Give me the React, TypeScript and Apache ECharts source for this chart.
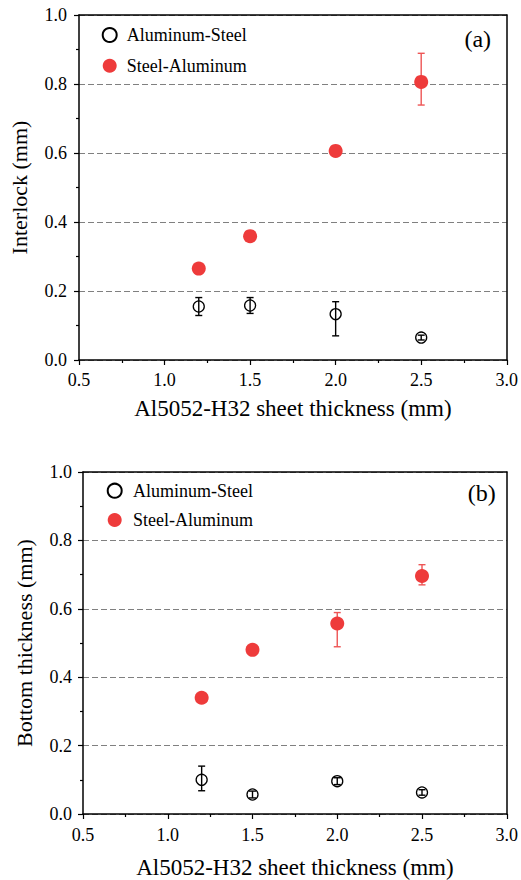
import React, { useEffect, useRef } from "react";
import * as echarts from "echarts";

const thickness = [1.2, 1.5, 2.0, 2.5];
const xTicks = [0.5, 1.0, 1.5, 2.0, 2.5, 3.0];
const yTicks = [0, 0.2, 0.4, 0.6, 0.8, 1.0];
const seriesNames = ["Aluminum-Steel", "Steel-Aluminum"];

// (a) Interlock
const interlockAlSt = [0.155, 0.158, 0.133, 0.065];
const interlockAlStLow = [0.129, 0.135, 0.07, 0.058];
const interlockAlStHigh = [0.181, 0.181, 0.169, 0.072];
const interlockStAl = [0.265, 0.359, 0.606, 0.806];
const interlockStAlLow = [null, null, null, 0.739];
const interlockStAlHigh = [null, null, null, 0.889];

// (b) Bottom thickness
const bottomAlSt = [0.1, 0.057, 0.096, 0.063];
const bottomAlStLow = [0.068, 0.047, 0.086, 0.055];
const bottomAlStHigh = [0.14, 0.067, 0.106, 0.071];
const bottomStAl = [0.34, 0.48, 0.557, 0.696];
const bottomStAlLow = [null, null, 0.489, 0.67];
const bottomStAlHigh = [null, null, 0.589, 0.729];

const FONT = "'Liberation Serif', 'Times New Roman', Times, serif";
const RED = "#EE3B3B";
const RED_ERR = "#EE5555";

function pairs(xs: number[], ys: number[]) {
  return xs.map((x, i) => [x, ys[i]]);
}
function errData(xs: number[], lo: (number | null)[], hi: (number | null)[]) {
  const out: number[][] = [];
  xs.forEach((x, i) => {
    if (lo[i] != null && hi[i] != null) out.push([x, lo[i] as number, hi[i] as number]);
  });
  return out;
}

function errSeries(data: number[][], idx: number, color: string) {
  return {
    type: "custom",
    xAxisIndex: idx,
    yAxisIndex: idx,
    z: 1,
    silent: true,
    data,
    encode: { x: 0, y: [1, 2] },
    renderItem: (params: any, api: any) => {
      const x = api.value(0);
      const lo = api.value(1);
      const hi = api.value(2);
      const p1 = api.coord([x, hi]);
      const p2 = api.coord([x, lo]);
      const w = 3.5;
      const style = { stroke: color, lineWidth: 1.4 };
      return {
        type: "group",
        children: [
          { type: "line", shape: { x1: p1[0], y1: p1[1], x2: p2[0], y2: p2[1] }, style },
          { type: "line", shape: { x1: p1[0] - w, y1: p1[1], x2: p1[0] + w, y2: p1[1] }, style },
          { type: "line", shape: { x1: p2[0] - w, y1: p2[1], x2: p2[0] + w, y2: p2[1] }, style },
        ],
      };
    },
  };
}

function xAxisCfg(gridIndex: number, nameGap: number, labelMargin: number) {
  return {
    type: "value",
    gridIndex,
    min: xTicks[0],
    max: xTicks[xTicks.length - 1],
    interval: 0.5,
    name: "Al5052-H32 sheet thickness (mm)",
    nameLocation: "middle",
    nameGap,
    nameTextStyle: { fontFamily: FONT, fontSize: 23, color: "#000" },
    axisLine: { show: true, onZero: false, lineStyle: { color: "#000", width: 1.5 } },
    axisTick: { show: true, inside: false, length: 5, lineStyle: { color: "#000", width: 1.2 } },
    minorTick: { show: true, splitNumber: 2, length: 3, lineStyle: { color: "#000", width: 1.2 } },
    axisLabel: {
      margin: labelMargin,
      fontFamily: FONT,
      fontSize: 18,
      color: "#000",
      formatter: (v: number) => v.toFixed(1),
    },
    splitLine: { show: false },
  };
}

function yAxisCfg(gridIndex: number, name: string, nameGap: number, labelMargin: number) {
  return {
    type: "value",
    gridIndex,
    min: yTicks[0],
    max: yTicks[yTicks.length - 1],
    interval: 0.2,
    name,
    nameLocation: "middle",
    nameGap,
    nameTextStyle: { fontFamily: FONT, fontSize: 22, color: "#000" },
    axisLine: { show: true, onZero: false, lineStyle: { color: "#000", width: 1.5 } },
    axisTick: { show: true, inside: false, length: 5, lineStyle: { color: "#000", width: 1.2 } },
    minorTick: { show: true, splitNumber: 2, length: 3, lineStyle: { color: "#000", width: 1.2 } },
    axisLabel: {
      margin: labelMargin,
      fontFamily: FONT,
      fontSize: 18,
      color: "#000",
      formatter: (v: number) => v.toFixed(1),
    },
    splitLine: { show: true, lineStyle: { color: "#808080", width: 1, type: [6, 3] } },
  };
}

function frameX(gridIndex: number) {
  return {
    type: "value",
    gridIndex,
    position: "top",
    min: 0,
    max: 1,
    axisLine: { show: true, onZero: false, lineStyle: { color: "#000", width: 1.5 } },
    axisTick: { show: false },
    axisLabel: { show: false },
    splitLine: { show: false },
  };
}
function frameY(gridIndex: number) {
  return {
    type: "value",
    gridIndex,
    position: "right",
    min: 0,
    max: 1,
    axisLine: { show: true, onZero: false, lineStyle: { color: "#000", width: 1.5 } },
    axisTick: { show: false },
    axisLabel: { show: false },
    splitLine: { show: false },
  };
}

function scatterPair(idx: number, alSt: number[], stAl: number[]) {
  return [
    {
      name: seriesNames[0],
      type: "scatter",
      xAxisIndex: idx,
      yAxisIndex: idx,
      z: 3,
      symbol: "circle",
      symbolSize: 11,
      itemStyle: { color: "rgba(255,255,255,0)", borderColor: "#000", borderWidth: 1.3, opacity: 1 },
      data: pairs(thickness, alSt),
    },
    {
      name: seriesNames[1],
      type: "scatter",
      xAxisIndex: idx,
      yAxisIndex: idx,
      z: 3,
      symbol: "circle",
      symbolSize: 14,
      itemStyle: { color: RED, opacity: 1 },
      data: pairs(thickness, stAl),
    },
  ];
}

function legendCfg(left: number, top: number, itemWidth: number, itemGap: number) {
  return {
    orient: "vertical",
    left,
    top,
    padding: 0,
    itemWidth,
    itemHeight: 14,
    itemGap,
    selectedMode: false,
    textStyle: { fontFamily: FONT, fontSize: 18, color: "#000", lineHeight: 18 },
    data: seriesNames,
  };
}

export default function App() {
  const ref = useRef<HTMLDivElement>(null);
  useEffect(() => {
    if (!ref.current) return;
    const chart = echarts.init(ref.current, null, { renderer: "svg" });
    chart.setOption({
      animation: false,
      backgroundColor: "#fff",
      textStyle: { fontFamily: FONT },
      grid: [
        { left: 78.5, top: 15, width: 428.5, height: 345 },
        { left: 83, top: 472, width: 426, height: 342.5 },
      ],
      xAxis: [xAxisCfg(0, 37, 11), xAxisCfg(1, 42, 12), frameX(0), frameX(1)],
      yAxis: [
        yAxisCfg(0, "Interlock (mm)", 49, 12),
        yAxisCfg(1, "Bottom thickness (mm)", 48, 11),
        frameY(0),
        frameY(1),
      ],
      legend: [legendCfg(101.7, 26, 24, 12.7), legendCfg(106.7, 481.7, 26.6, 11.3)],
      graphic: [
        {
          type: "text",
          x: 477.7,
          y: 39,
          style: { text: "(a)", fontFamily: FONT, fontSize: 24, fill: "#000", align: "center", verticalAlign: "middle" },
        },
        {
          type: "text",
          x: 481.7,
          y: 493.3,
          style: { text: "(b)", fontFamily: FONT, fontSize: 24, fill: "#000", align: "center", verticalAlign: "middle" },
        },
      ],
      series: [
        errSeries(errData(thickness, interlockAlStLow, interlockAlStHigh), 0, "#000"),
        errSeries(errData(thickness, interlockStAlLow, interlockStAlHigh), 0, RED_ERR),
        ...scatterPair(0, interlockAlSt, interlockStAl),
        errSeries(errData(thickness, bottomAlStLow, bottomAlStHigh), 1, "#000"),
        errSeries(errData(thickness, bottomStAlLow, bottomStAlHigh), 1, RED_ERR),
        ...scatterPair(1, bottomAlSt, bottomStAl),
      ],
    });
    return () => chart.dispose();
  }, []);
  return (
    <div
      ref={ref}
      style={{ position: "absolute", left: 0, top: 0, width: 521, height: 880, background: "#fff" }}
    />
  );
}
